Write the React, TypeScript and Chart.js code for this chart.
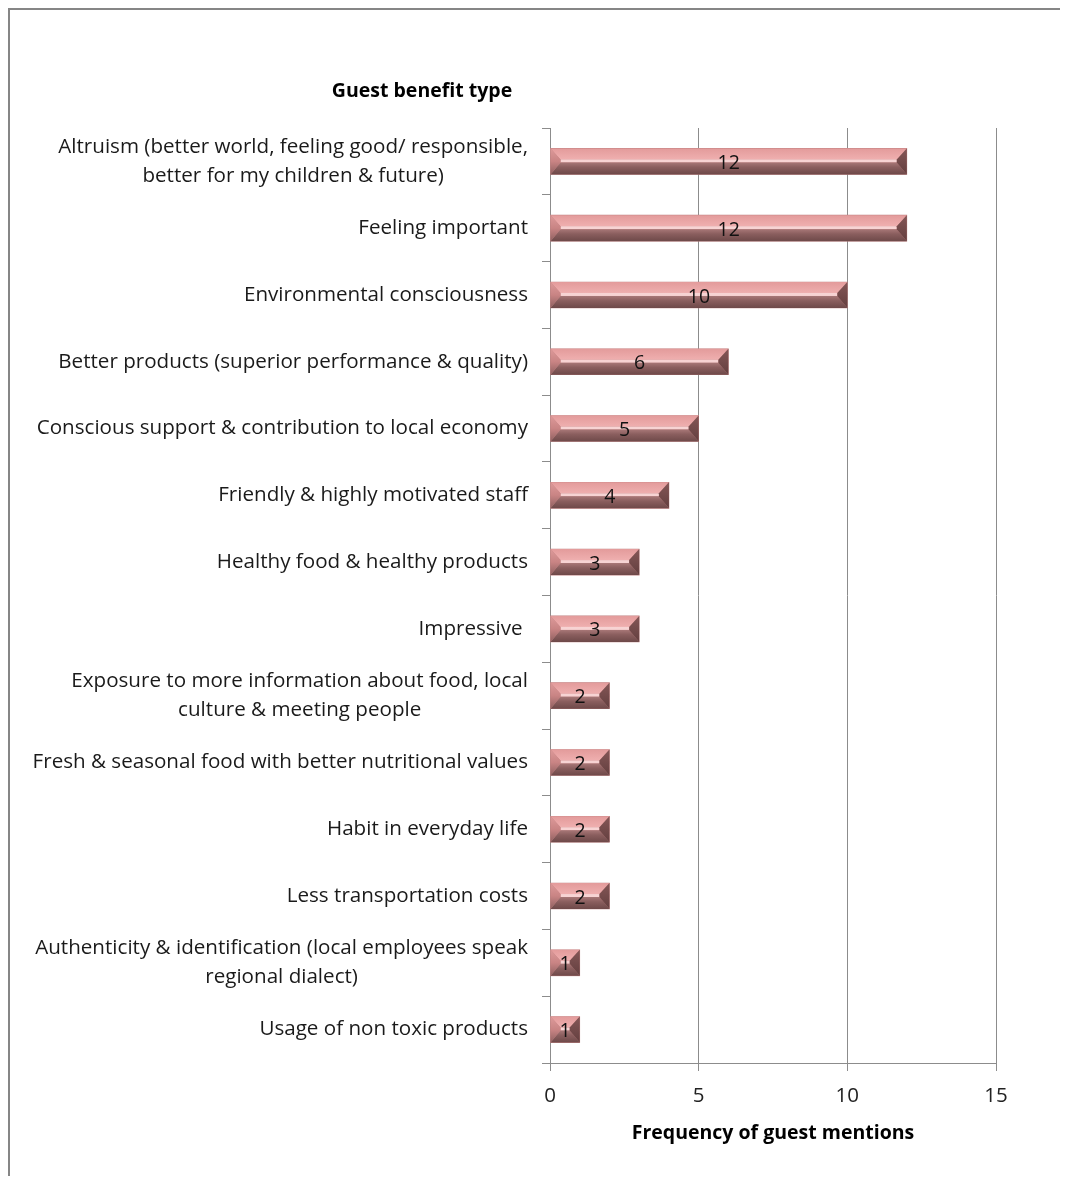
import React, { useEffect, useRef } from "react";
import { Chart, registerables } from "chart.js";

Chart.register(...registerables);

const categories: (string | string[])[] = [
  ["Altruism (better world, feeling good/ responsible,", "better for my children & future)"],
  "Feeling important",
  "Environmental consciousness",
  "Better products (superior performance & quality)",
  "Conscious support & contribution to local economy",
  "Friendly & highly motivated staff",
  "Healthy food & healthy products",
  "Impressive ",
  ["Exposure to more information about food, local", "culture & meeting people"],
  "Fresh & seasonal food with better nutritional values",
  "Habit in everyday life",
  "Less transportation costs",
  ["Authenticity & identification (local employees speak", "regional dialect)"],
  "Usage of non toxic products",
];

const mentions = [12, 12, 10, 6, 5, 4, 3, 3, 2, 2, 2, 2, 1, 1];

const xTickValues = [0, 5, 10, 15];

const yTitle = "Guest benefit type";
const xTitle = "Frequency of guest mentions";

const FONT = "'Open Sans', Lato, sans-serif";

const bevelPlugin = {
  id: "bevelBars",
  afterDatasetsDraw(chart: any) {
    const ctx: CanvasRenderingContext2D = chart.ctx;
    const meta = chart.getDatasetMeta(0);
    ctx.save();
    meta.data.forEach((el: any, i: number) => {
      const L = Math.min(el.base, el.x);
      const R = Math.max(el.base, el.x);
      const h = el.height;
      const T = el.y - h / 2;
      const B = el.y + h / 2;
      const w = R - L;
      const bh = Math.min(10, w / 2);
      const tv = 11;
      const bv = 12;
      // top face
      let g = ctx.createLinearGradient(0, T, 0, T + tv);
      g.addColorStop(0, "#E39B9B");
      g.addColorStop(1, "#EFAFAF");
      ctx.fillStyle = g;
      ctx.beginPath();
      ctx.moveTo(L, T);
      ctx.lineTo(R, T);
      ctx.lineTo(R - bh, T + tv);
      ctx.lineTo(L + bh, T + tv);
      ctx.closePath();
      ctx.fill();
      // inner face
      ctx.fillStyle = "#F7D3D3";
      ctx.fillRect(L + bh, T + tv, Math.max(0, w - 2 * bh), B - bv - (T + tv));
      // bottom face
      g = ctx.createLinearGradient(0, B - bv, 0, B);
      g.addColorStop(0, "#A87777");
      g.addColorStop(0.4, "#8A5E5E");
      g.addColorStop(1, "#6E4949");
      ctx.fillStyle = g;
      ctx.beginPath();
      ctx.moveTo(L + bh, B - bv);
      ctx.lineTo(R - bh, B - bv);
      ctx.lineTo(R, B);
      ctx.lineTo(L, B);
      ctx.closePath();
      ctx.fill();
      // left face
      g = ctx.createLinearGradient(0, T, 0, B);
      g.addColorStop(0, "#DD9A9A");
      g.addColorStop(0.5, "#C98484");
      g.addColorStop(1, "#8E6060");
      ctx.fillStyle = g;
      ctx.beginPath();
      ctx.moveTo(L, T);
      ctx.lineTo(L + bh, T + tv);
      ctx.lineTo(L + bh, B - bv);
      ctx.lineTo(L, B);
      ctx.closePath();
      ctx.fill();
      // right face
      g = ctx.createLinearGradient(0, T, 0, B);
      g.addColorStop(0, "#845656");
      g.addColorStop(1, "#633F3F");
      ctx.fillStyle = g;
      ctx.beginPath();
      ctx.moveTo(R, T);
      ctx.lineTo(R - bh, T + tv);
      ctx.lineTo(R - bh, B - bv);
      ctx.lineTo(R, B);
      ctx.closePath();
      ctx.fill();
      // value label
      ctx.fillStyle = "#111";
      ctx.font = `19.5px ${FONT}`;
      ctx.textAlign = "center";
      ctx.textBaseline = "middle";
      ctx.fillText(String(chart.data.datasets[0].data[i]), (L + R) / 2, el.y + 2);
    });
    ctx.restore();
  },
  afterDraw(chart: any) {
    const ctx: CanvasRenderingContext2D = chart.ctx;
    const yScale = chart.scales.y;
    ctx.save();
    ctx.fillStyle = "#1a1a1a";
    ctx.font = `20.6px ${FONT}`;
    ctx.textBaseline = "middle";
    ctx.textAlign = "center";
    const rightEdge = yScale.right - 22;
    const lineH = 29;
    chart.data.labels.forEach((lab: string | string[], i: number) => {
      const lines = Array.isArray(lab) ? lab : [lab];
      const maxW = Math.max(...lines.map((l) => ctx.measureText(l).width));
      const cx = rightEdge - maxW / 2;
      const cy = yScale.getPixelForTick(i);
      lines.forEach((l, k) => {
        const y = cy + (k - (lines.length - 1) / 2) * lineH;
        ctx.fillText(l, cx, y);
      });
    });
    ctx.font = `bold 19.5px ${FONT}`;
    ctx.fillStyle = "#000";
    ctx.fillText(yTitle, 412, 81);
    ctx.restore();
  },
};

export default function App() {
  const ref = useRef<HTMLCanvasElement>(null);
  useEffect(() => {
    if (!ref.current) return;
    const chart = new Chart(ref.current, {
      type: "bar",
      data: {
        labels: categories as any,
        datasets: [
          {
            data: mentions,
            backgroundColor: "#C08080",
            borderWidth: 0,
            barThickness: 26,
          },
        ],
      },
      options: {
        indexAxis: "y",
        responsive: false,
        animation: false,
        devicePixelRatio: 1,
        layout: { padding: { top: 118, right: 72, left: 0, bottom: 0 } },
        plugins: {
          legend: { display: false },
          tooltip: { enabled: false },
          title: { display: false },
        },
        scales: {
          y: {
            type: "category",
            ticks: { display: false },
            grid: {
              display: true,
              drawOnChartArea: false,
              drawTicks: true,
              tickLength: 8,
              color: "#8c8c8c",
              offset: true,
            },
            border: { display: true, color: "#8c8c8c" },
            afterFit: (s: any) => {
              s.width = 540;
            },
          },
          x: {
            type: "linear",
            min: 0,
            max: 15,
            afterBuildTicks: (s: any) => {
              s.ticks = xTickValues.map((v) => ({ value: v }));
            },
            ticks: {
              font: { family: FONT, size: 20.5 },
              color: "#222",
              padding: 13,
            },
            grid: {
              color: "#8c8c8c",
              drawTicks: true,
              tickLength: 8,
            },
            border: { display: true, color: "#8c8c8c" },
            title: {
              display: true,
              text: xTitle,
              color: "#000",
              font: { family: FONT, size: 19.5, weight: "bold" },
              padding: { top: 0, bottom: 31 },
            },
            afterFit: (s: any) => {
              s.height = 113;
            },
          },
        },
      },
      plugins: [bevelPlugin],
    });
    return () => chart.destroy();
  }, []);
  return (
    <div
      style={{
        width: 1060,
        height: 1168,
        borderLeft: "2px solid #868686",
        borderTop: "2px solid #868686",
        boxSizing: "border-box",
        background: "#fff",
      }}
    >
      <canvas ref={ref} width={1058} height={1166} style={{ display: "block" }} />
    </div>
  );
}
